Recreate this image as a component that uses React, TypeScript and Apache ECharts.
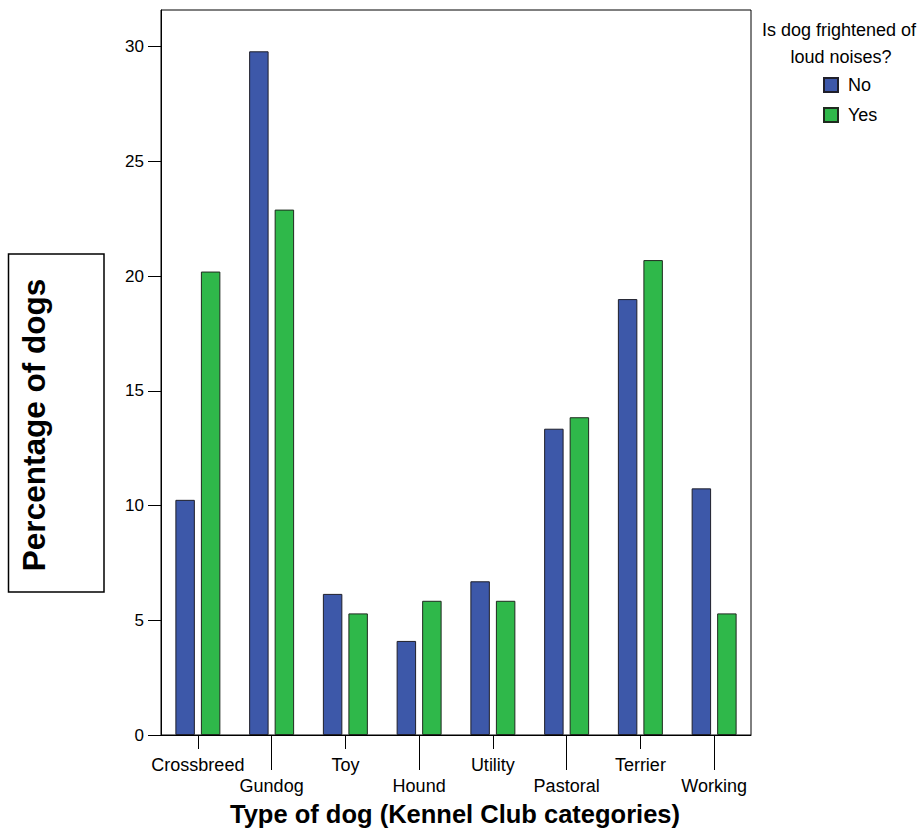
import React, { useEffect, useRef } from "react";
import * as echarts from "echarts";

const categories = ["Crossbreed", "Gundog", "Toy", "Hound", "Utility", "Pastoral", "Terrier", "Working"];
const noValues = [10.25, 29.8, 6.15, 4.1, 6.7, 13.35, 19.0, 10.75];
const yesValues = [20.2, 22.9, 5.3, 5.85, 5.85, 13.85, 20.7, 5.3];
const yTicks = [0, 5, 10, 15, 20, 25, 30];
const seriesNames = ["No", "Yes"];
const legendTitle = ["Is dog frightened of", "loud noises?"];

const FONT = "'Liberation Sans', Arial, sans-serif";

export default function App() {
  const ref = useRef<HTMLDivElement>(null);
  useEffect(() => {
    if (!ref.current) return;
    const chart = echarts.init(ref.current, null, { renderer: "svg" });
    chart.setOption({
      animation: false,
      backgroundColor: "#ffffff",
      textStyle: { fontFamily: FONT },
      grid: {
        left: 161,
        right: 171,
        top: 10,
        bottom: 99,
        show: true,
        borderColor: "#000",
        borderWidth: 1,
        backgroundColor: "transparent",
      },
      legend: {
        orient: "vertical",
        left: 823,
        top: 76,
        padding: 0,
        itemWidth: 14,
        itemHeight: 14,
        itemGap: 12,
        icon: "rect",
        textStyle: { fontSize: 18, color: "#000", fontFamily: FONT, padding: [0, 0, 0, 5] },
        data: seriesNames,
      },
      xAxis: [
        {
          type: "category",
          data: categories,
          position: "bottom",
          axisLine: { show: true, lineStyle: { color: "#000", width: 1 } },
          axisTick: {
            show: true,
            alignWithLabel: true,
            length: 14,
            interval: (i: number) => i % 2 === 0,
            lineStyle: { color: "#000" },
          },
          axisLabel: {
            interval: 0,
            fontSize: 18,
            lineHeight: 21,
            margin: 19,
            color: "#000",
            fontFamily: FONT,
            formatter: (v: string, i: number) => (i % 2 === 1 ? "\n" + v : v),
          },
        },
        {
          type: "category",
          data: categories,
          position: "bottom",
          axisLine: { show: false },
          axisTick: {
            show: true,
            alignWithLabel: true,
            length: 35,
            interval: (i: number) => i % 2 === 1,
            lineStyle: { color: "#000" },
          },
          axisLabel: { show: false },
        },
      ],
      yAxis: {
        type: "value",
        min: 0,
        max: 31.6,
        splitLine: { show: false },
        axisLine: { show: true, lineStyle: { color: "#000", width: 1 } },
        axisTick: { show: true, length: 13, customValues: yTicks, lineStyle: { color: "#000" } },
        axisLabel: { fontSize: 17, color: "#000", margin: 17, customValues: yTicks, fontFamily: FONT },
      },
      series: [
        {
          name: seriesNames[0],
          type: "bar",
          data: noValues,
          barCategoryGap: "39%",
          barGap: "31%",
          itemStyle: { color: "#3d58a9", borderColor: "#1f1f2a", borderWidth: 1 },
        },
        {
          name: seriesNames[1],
          type: "bar",
          data: yesValues,
          barCategoryGap: "39%",
          barGap: "31%",
          itemStyle: { color: "#2fb84a", borderColor: "#1f2a1f", borderWidth: 1 },
        },
      ],
      graphic: [
        {
          type: "text",
          x: 455,
          y: 814,
          style: {
            text: "Type of dog (Kennel Club categories)",
            fontSize: 25.5,
            fontWeight: "bold",
            fill: "#000",
            fontFamily: FONT,
            align: "center",
            verticalAlign: "middle",
          },
        },
        {
          type: "rect",
          shape: { x: 8.5, y: 254, width: 95.5, height: 338 },
          style: { fill: "#fff", stroke: "#000", lineWidth: 1.5 },
        },
        {
          type: "text",
          x: 34,
          y: 425,
          rotation: Math.PI / 2,
          style: {
            text: "Percentage of dogs",
            fontSize: 31.5,
            fontWeight: "bold",
            fill: "#000",
            fontFamily: FONT,
            align: "center",
            verticalAlign: "middle",
          },
        },
        {
          type: "text",
          x: 839,
          y: 30,
          style: {
            text: legendTitle[0],
            fontSize: 18,
            fill: "#000",
            fontFamily: FONT,
            align: "center",
            verticalAlign: "middle",
          },
        },
        {
          type: "text",
          x: 841,
          y: 57,
          style: {
            text: legendTitle[1],
            fontSize: 18,
            fill: "#000",
            fontFamily: FONT,
            align: "center",
            verticalAlign: "middle",
          },
        },
      ],
    });
    return () => chart.dispose();
  }, []);
  return <div ref={ref} style={{ position: "fixed", left: 0, top: 0, width: 922, height: 834 }} />;
}
